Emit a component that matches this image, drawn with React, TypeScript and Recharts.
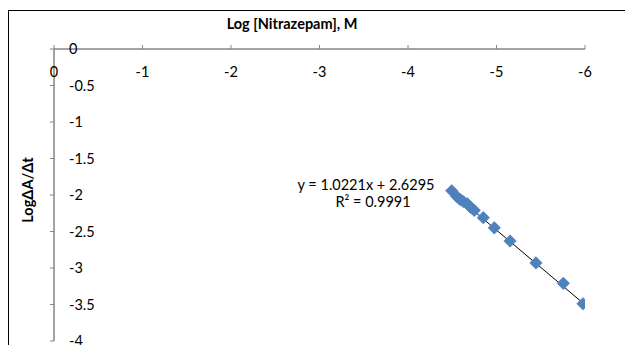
import { ScatterChart, Scatter, XAxis, YAxis, ReferenceLine } from "recharts";

// log [Nitrazepam] (M) and log(ΔA/Δt) readings
const logConc = [-4.494, -4.55, -4.588, -4.625, -4.67, -4.708, -4.749, -4.851, -4.975, -5.153, -5.446, -5.755, -5.977];
const logRate = [-1.941, -2.02, -2.06, -2.09, -2.12, -2.17, -2.21, -2.31, -2.45, -2.63, -2.93, -3.21, -3.49];

const xTicks = [0, -1, -2, -3, -4, -5, -6];
const yTicks = [0, -0.5, -1, -1.5, -2, -2.5, -3, -3.5, -4];

// linear fit shown on the chart
const slope = 1.0221;
const intercept = 2.6295;
const rSquared = 0.9991;

const points = logConc.map((x, i) => ({ x, y: logRate[i] }));
const xMin = Math.min(...logConc);
const xMax = Math.max(...logConc);
const fitLine = [
  { x: xMax, y: slope * xMax + intercept },
  { x: xMin, y: slope * xMin + intercept },
];

const FONT = "Lato, 'Open Sans', sans-serif";
const FONT_SIZE = 14.5;
const AXIS_GREY = "#868686";
const MARKER = "#4F81BD";

// eslint-disable-next-line @typescript-eslint/no-explicit-any
const XTick = (props: any) => {
  const { x, y, payload } = props;
  return (
    <g>
      <line x1={x} y1={y} x2={x} y2={y - 4} stroke={AXIS_GREY} strokeWidth={1} />
      <text x={x} y={y + 28} textAnchor="middle" fontSize={FONT_SIZE} fontFamily={FONT} fill="#000">
        {payload.value}
      </text>
    </g>
  );
};

// eslint-disable-next-line @typescript-eslint/no-explicit-any
const YTick = (props: any) => {
  const { x, y, payload } = props;
  return (
    <g>
      <line x1={x} y1={y} x2={x - 4} y2={y} stroke={AXIS_GREY} strokeWidth={1} />
      <text x={x + 15} y={y + 5} textAnchor="start" fontSize={FONT_SIZE} fontFamily={FONT} fill="#000">
        {payload.value}
      </text>
    </g>
  );
};

// eslint-disable-next-line @typescript-eslint/no-explicit-any
const Diamond = (props: any) => {
  const { cx, cy } = props;
  const r = 6.3;
  return (
    <polygon
      points={`${cx},${cy - r} ${cx + r},${cy} ${cx},${cy + r} ${cx - r},${cy}`}
      fill={MARKER}
      stroke={MARKER}
      strokeWidth={0.5}
    />
  );
};

export default function App() {
  return (
    <div style={{ position: "absolute", left: 0, top: 0, width: 625, height: 345, background: "#fff" }}>
      <svg width={625} height={345} style={{ position: "absolute", left: 0, top: 0 }}>
        <rect x={8.5} y={10.5} width={800} height={500} fill="none" stroke="#000" strokeWidth={1} />
        <text x={292} y={29} textAnchor="middle" fontSize={FONT_SIZE} fontWeight="bold" fontFamily={FONT} fill="#000">
          Log [Nitrazepam], M
        </text>
        <text
          x={33}
          y={190}
          textAnchor="middle"
          fontSize={FONT_SIZE}
          fontWeight="bold"
          fontFamily={FONT}
          fill="#000"
          transform="rotate(-90 33 190)"
        >
          LogΔA/Δt
        </text>
      </svg>
      <div style={{ position: "absolute", left: 0, top: 0 }}>
        <ScatterChart width={625} height={345} margin={{ top: 19, right: 40, bottom: 4, left: 14 }}>
          <XAxis
            type="number"
            dataKey="x"
            orientation="top"
            height={30}
            domain={[-6, 0]}
            ticks={xTicks}
            reversed
            allowDataOverflow
            interval={0}
            axisLine={{ stroke: AXIS_GREY, strokeWidth: 1.5 }}
            tickLine={false}
            tickSize={0}
            tickMargin={0}
            tick={<XTick />}
          />
          <YAxis
            type="number"
            dataKey="y"
            width={40}
            domain={[-4, 0]}
            ticks={yTicks}
            allowDataOverflow
            interval={0}
            axisLine={{ stroke: AXIS_GREY, strokeWidth: 1.5 }}
            tickLine={false}
            tickSize={0}
            tickMargin={0}
            tick={<YTick />}
          />
          <ReferenceLine segment={fitLine} stroke="#000" strokeWidth={1} ifOverflow="visible" />
          <Scatter data={points} shape={<Diamond />} isAnimationActive={false} />
          <text x={366} y={190} textAnchor="middle" fontSize={FONT_SIZE} fontFamily={FONT} fill="#000">
            {`y = ${slope}x + ${intercept}`}
          </text>
          <text x={373} y={207} textAnchor="middle" fontSize={FONT_SIZE} fontFamily={FONT} fill="#000">
            {`R² = ${rSquared}`}
          </text>
        </ScatterChart>
      </div>
    </div>
  );
}
